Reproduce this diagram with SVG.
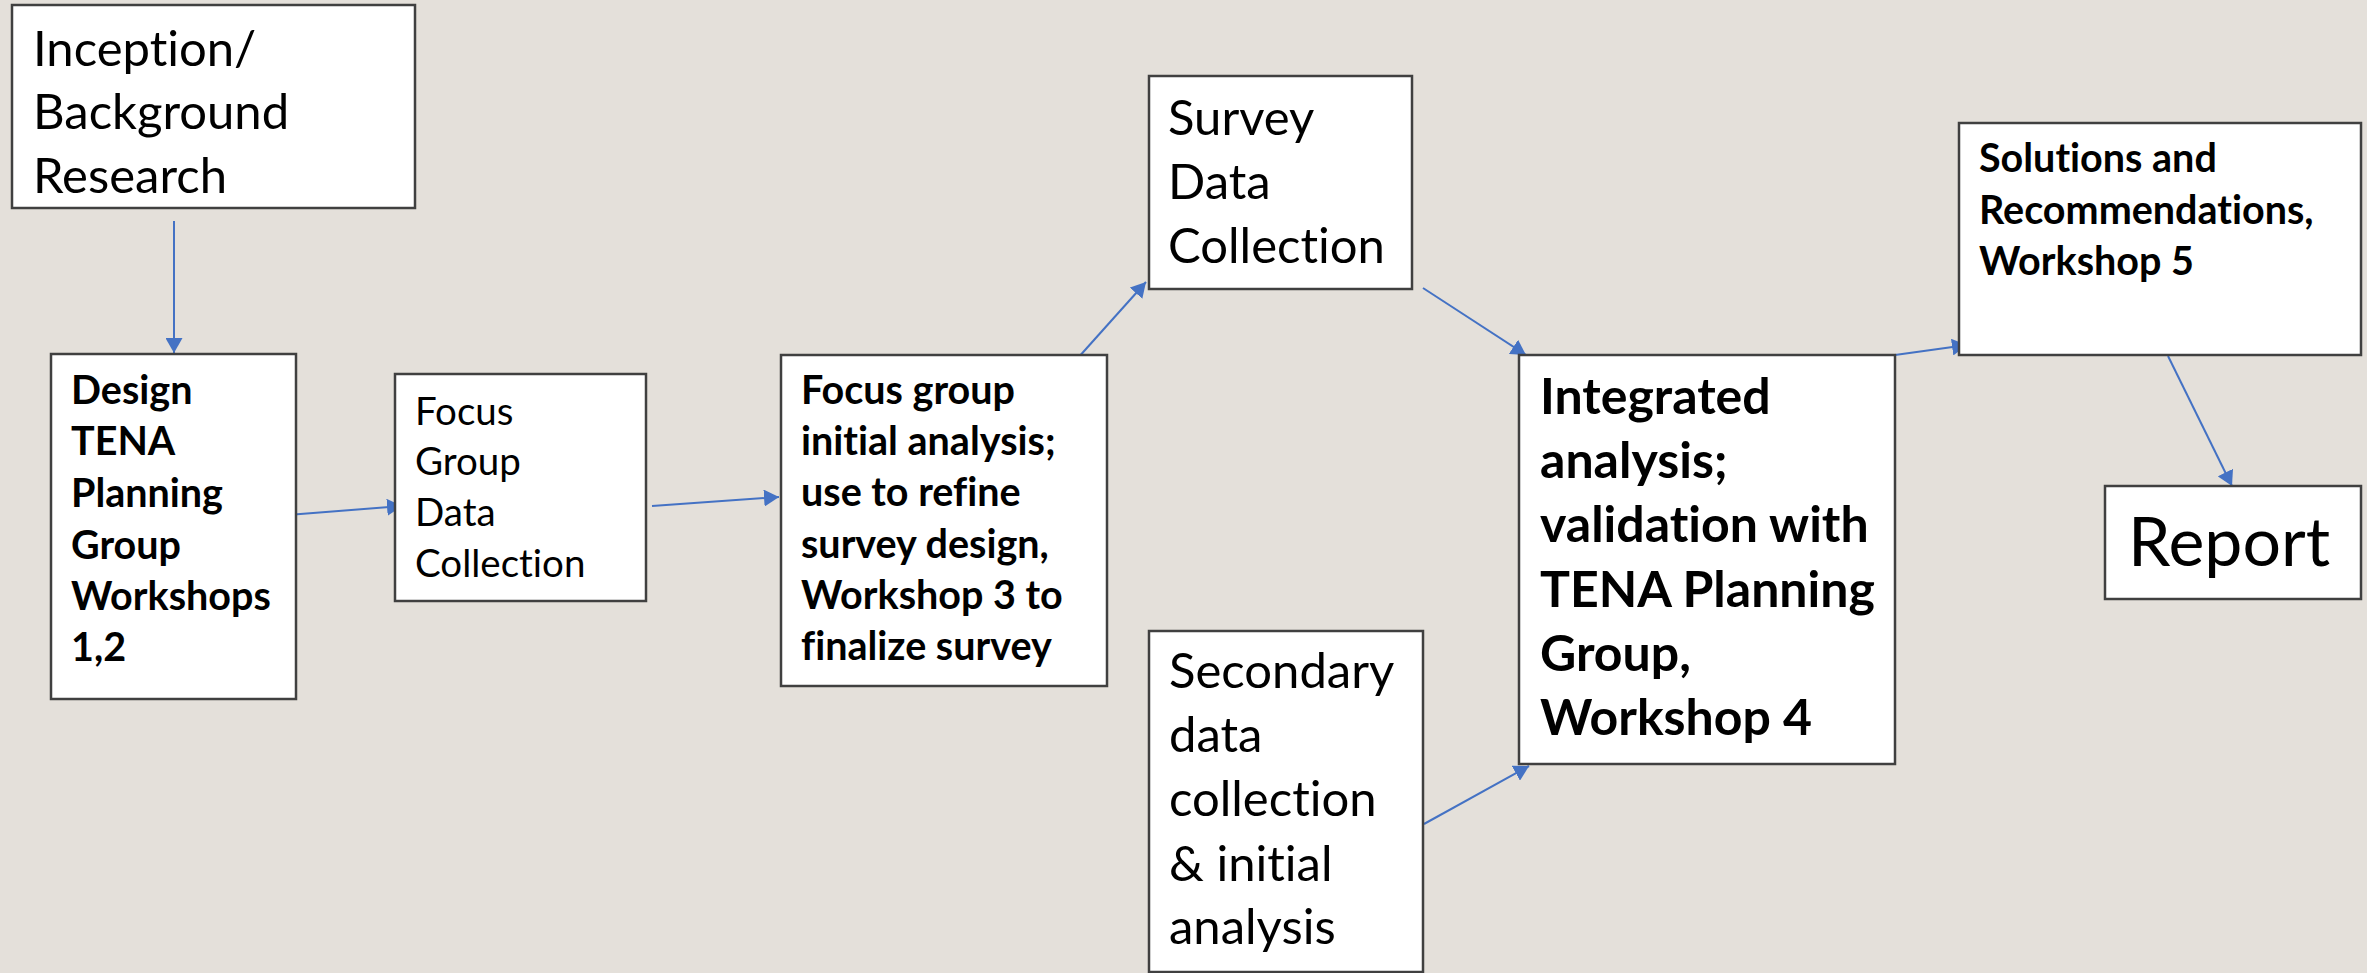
<svg xmlns="http://www.w3.org/2000/svg" width="2367" height="973" viewBox="0 0 2367 973">
<defs>
<marker id="arr" markerUnits="userSpaceOnUse" markerWidth="15" markerHeight="17" refX="15" refY="8.5" orient="auto">
<path d="M0,0 L15,8.5 L0,17 z" fill="#4472C4"/>
</marker>
<style>
.box{fill:#FFFFFF;stroke:#404040;stroke-width:2.5}
.t{font-family:Lato,"Liberation Sans",sans-serif;fill:#000000;font-variant-ligatures:none}
.r54{font-size:49px}
.b54{font-size:50px;font-weight:bold}
.r40{font-size:38.5px}
.b40{font-size:39.5px;font-weight:bold}
.r72{font-size:68px}
.c{fill:none;stroke:#4472C4;stroke-width:2;marker-end:url(#arr)}
</style>
</defs>
<rect x="0" y="0" width="2367" height="973" fill="#E4E0DA"/>
<g id="connectors">
<line class="c" x1="174" y1="221" x2="174" y2="353"/>
<line class="c" x1="275" y1="516" x2="402" y2="506"/>
<line class="c" x1="652" y1="506" x2="779" y2="497"/>
<line class="c" x1="1077" y1="359" x2="1146" y2="282"/>
<line class="c" x1="1423" y1="288" x2="1526" y2="355"/>
<line class="c" x1="1424" y1="824" x2="1529" y2="766"/>
<line class="c" x1="1895" y1="355" x2="1967" y2="345"/>
<line class="c" x1="2168" y1="356" x2="2232" y2="486"/>
</g>
<g id="inception">
<rect class="box" x="12" y="5" width="403" height="203"/>
<text class="t r54"><tspan x="33" y="66">Inception/</tspan><tspan x="33" y="129">Background</tspan><tspan x="33" y="193">Research</tspan></text>
</g>
<g id="design">
<rect class="box" x="51" y="354" width="245" height="345"/>
<text class="t b40"><tspan x="71" y="404">Design</tspan><tspan x="71" y="455">TENA</tspan><tspan x="71" y="507">Planning</tspan><tspan x="71" y="559">Group</tspan><tspan x="71" y="610">Workshops</tspan><tspan x="71" y="661">1,2</tspan></text>
</g>
<g id="focusgroup">
<rect class="box" x="395" y="374" width="251" height="227"/>
<text class="t r40"><tspan x="415" y="425">Focus</tspan><tspan x="415" y="475">Group</tspan><tspan x="415" y="526">Data</tspan><tspan x="415" y="577">Collection</tspan></text>
</g>
<g id="fganalysis">
<rect class="box" x="781" y="355" width="326" height="331"/>
<text class="t b40"><tspan x="801" y="404">Focus group</tspan><tspan x="801" y="455">initial analysis;</tspan><tspan x="801" y="506">use to refine</tspan><tspan x="801" y="558">survey design,</tspan><tspan x="801" y="609">Workshop 3 to</tspan><tspan x="801" y="660">finalize survey</tspan></text>
</g>
<g id="survey">
<rect class="box" x="1149" y="76" width="263" height="213"/>
<text class="t r54"><tspan x="1168" y="135">Survey</tspan><tspan x="1168" y="199">Data</tspan><tspan x="1168" y="263">Collection</tspan></text>
</g>
<g id="secondary">
<rect class="box" x="1149" y="631" width="274" height="341"/>
<text class="t r54"><tspan x="1169" y="688">Secondary</tspan><tspan x="1169" y="752">data</tspan><tspan x="1169" y="816">collection</tspan><tspan x="1169" y="881">&amp; initial</tspan><tspan x="1169" y="944">analysis</tspan></text>
</g>
<g id="integrated">
<rect class="box" x="1519" y="355" width="376" height="409"/>
<text class="t b54"><tspan x="1540" y="414">Integrated</tspan><tspan x="1540" y="478">analysis;</tspan><tspan x="1540" y="542">validation with</tspan><tspan x="1540" y="607">TENA Planning</tspan><tspan x="1540" y="671">Group,</tspan><tspan x="1540" y="735">Workshop 4</tspan></text>
</g>
<g id="solutions">
<rect class="box" x="1959" y="123" width="402" height="232"/>
<text class="t b40"><tspan x="1979" y="172">Solutions and</tspan><tspan x="1979" y="224">Recommendations,</tspan><tspan x="1979" y="275">Workshop 5</tspan></text>
</g>
<g id="report">
<rect class="box" x="2105" y="486" width="256" height="113"/>
<text class="t r72" x="2128" y="566">Report</text>
</g>
</svg>
